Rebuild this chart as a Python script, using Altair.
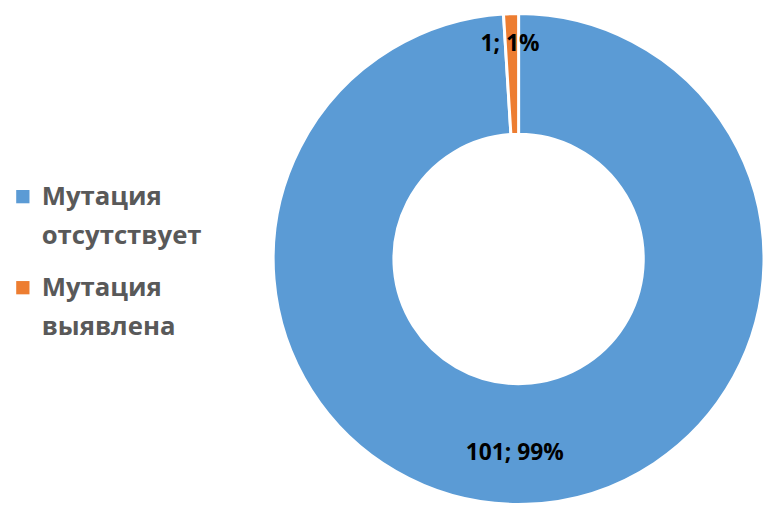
import altair as alt
import pandas as pd

categories = ["Мутация отсутствует", "Мутация выявлена"]
counts = [101, 1]
colors = ["#5B9BD5", "#ED7D31"]

df = pd.DataFrame({"cat": categories, "count": counts, "ord": list(range(len(categories)))})

cx, cy = 516, 251

base = alt.Chart(df).transform_joinaggregate(total="sum(count)").transform_calculate(
    lab="datum.count + '; ' + round(datum.count / datum.total * 100) + '%'"
).encode(
    theta=alt.Theta("count:Q", stack=True),
    order=alt.Order("ord:Q", sort="ascending"),
    x=alt.value(cx),
    y=alt.value(cy),
)

arc = base.mark_arc(innerRadius=126, outerRadius=248, stroke="white", strokeWidth=3).encode(
    color=alt.Color(
        "cat:N",
        scale=alt.Scale(domain=categories, range=colors),
        sort=categories,
        legend=alt.Legend(
            title=None,
            orient="none",
            legendX=2,
            legendY=175,
            symbolType="square",
            symbolSize=180,
            symbolStrokeWidth=0,
            labelExpr="split(datum.label, ' ')",
            labelFont="Open Sans",
            labelFontWeight="bold",
            labelFontSize=26,
            labelColor="#595959",
            labelLimit=0,
            labelBaseline="top",
            labelOffset=6,
            rowPadding=26,
        ),
    )
)

txt_small = base.mark_text(radius=217, dx=-2, font="Open Sans", fontWeight="bold", fontSize=23, color="black").encode(
    text=alt.Text("t:N")
).transform_calculate(t="datum.cat == 'Мутация выявлена' ? datum.lab : ''")

txt_big = base.mark_text(radius=196, dx=-10, font="Open Sans", fontWeight="bold", fontSize=23, color="black").encode(
    text=alt.Text("t:N")
).transform_calculate(t="datum.cat == 'Мутация отсутствует' ? datum.lab : ''")

chart = alt.layer(arc, txt_small, txt_big).properties(
    width=764, height=500, padding=0, autosize=alt.AutoSizeParams(type="none")
).configure(
    style={"guide-label": {"lineHeight": 40, "dy": -13}}
).configure_view(stroke=None)

chart.save("out.html", embed_options={"renderer": "svg", "actions": False})
